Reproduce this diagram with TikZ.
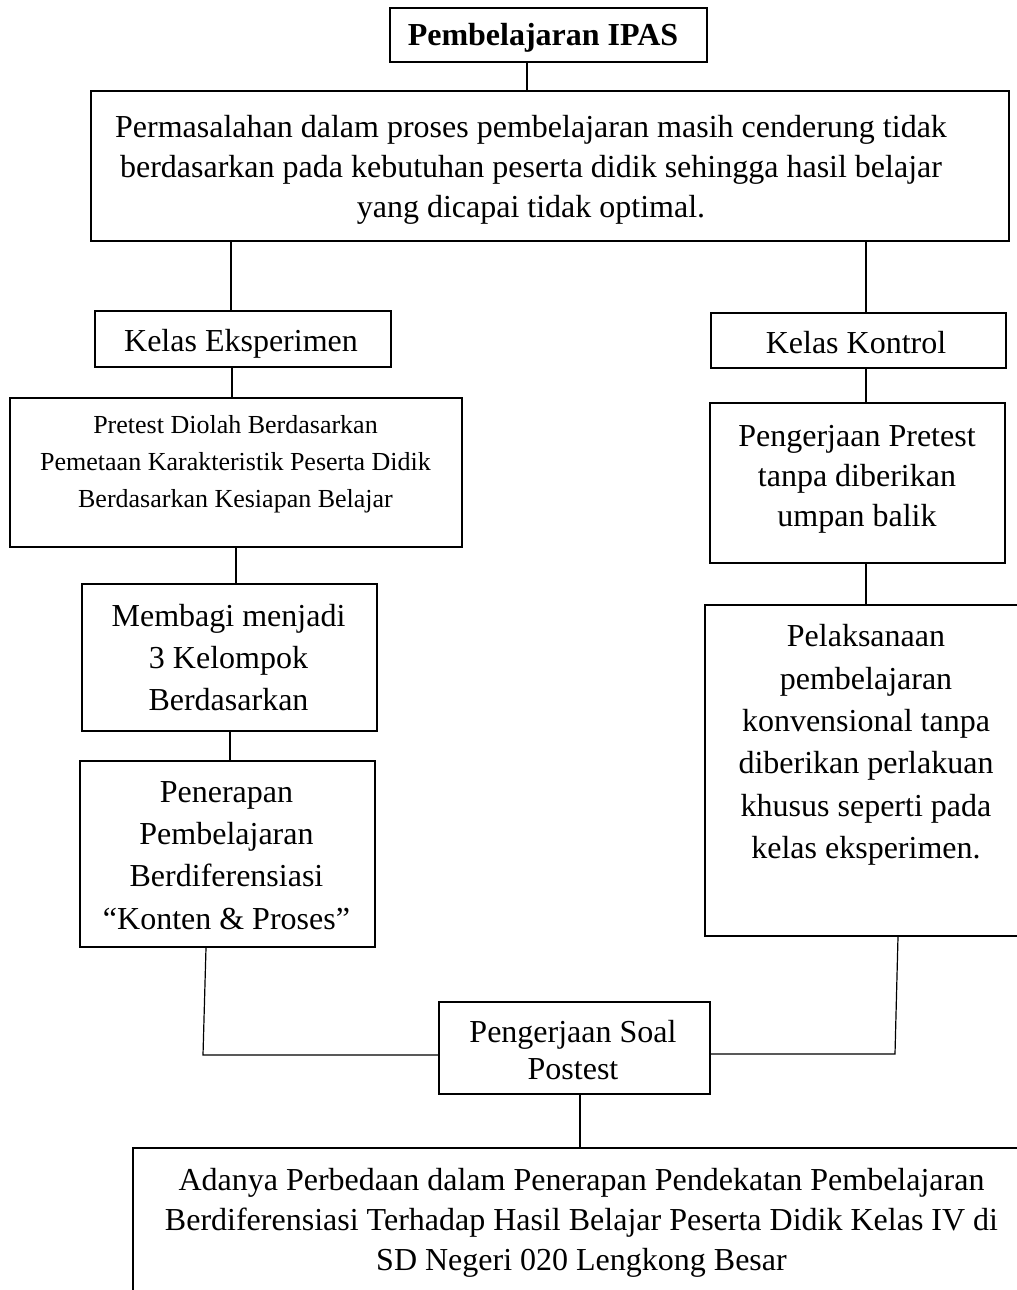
\documentclass[tikz,border=0pt]{standalone}
\usepackage{fontspec}
\setmainfont{Liberation Serif}
\tikzset{
  box/.style={draw, line width=1.3pt, rectangle, inner sep=0pt},
  txt/.style={align=center, inner sep=0pt, font=\fontsize{32}{40}\selectfont},
  txtw/.style={align=center, inner sep=0pt, font=\fontsize{32}{42.3}\selectfont},
  txts/.style={align=center, inner sep=0pt, font=\fontsize{26}{37}\selectfont},
  link/.style={line width=1.2pt},
}
\begin{document}
\begin{tikzpicture}[x=1pt,y=-1pt]
\useasboundingbox (0,0) rectangle (1017,1290);
\clip (0,0) rectangle (1017,1290);
% boxes
\node[box, minimum width=317pt, minimum height=54pt]  (title) at (548.5,35) {};
\node[box, minimum width=918pt, minimum height=150pt] (big)   at (550,166) {};
\node[box, minimum width=296pt, minimum height=56pt]  (ke)    at (243,339) {};
\node[box, minimum width=295pt, minimum height=55pt]  (kk)    at (858.5,340.5) {};
\node[box, minimum width=452pt, minimum height=149pt] (pre)   at (236,472.5) {};
\node[box, minimum width=295pt, minimum height=160pt] (pp)    at (857.5,483) {};
\node[box, minimum width=295pt, minimum height=147pt] (mem)   at (229.5,657.5) {};
\node[box, minimum width=295pt, minimum height=186pt] (pen)   at (227.5,854) {};
\node[box, minimum width=322pt, minimum height=331pt] (pel)   at (866,770.5) {};
\node[box, minimum width=271pt, minimum height=92pt]  (post)  at (574.5,1048) {};
\node[box, minimum width=897pt, minimum height=160pt] (fin)   at (581.5,1228) {};
% texts
\node[txt, font=\fontsize{32}{40}\selectfont\bfseries] (t0) at (543,38) {Pembelajaran IPAS};
\node[txt] (t1) at (531,170) {Permasalahan dalam proses pembelajaran masih cenderung tidak\\berdasarkan pada kebutuhan peserta didik sehingga hasil belajar\\yang dicapai tidak optimal.};
\node[txt] (t2) at (241,344) {Kelas Eksperimen};
\node[txt] (t3) at (856,343) {Kelas Kontrol};
\node[txts] (t4) at (235.5,464) {Pretest Diolah Berdasarkan\\Pemetaan Karakteristik Peserta Didik\\Berdasarkan Kesiapan Belajar};
\node[txt] (t5) at (857,479) {Pengerjaan Pretest\\tanpa diberikan\\umpan balik};
\node[txtw] (t6) at (228.5,657.5) {Membagi menjadi\\3 Kelompok\\Berdasarkan};
\node[txtw] (t7) at (226.5,855.5) {Penerapan\\Pembelajaran\\Berdiferensiasi\\“Konten \& Proses”};
\node[txtw] (t8) at (866,745) {Pelaksanaan\\pembelajaran\\konvensional tanpa\\diberikan perlakuan\\khusus seperti pada\\kelas eksperimen.};
\node[txt, font=\fontsize{32}{37}\selectfont] (t9) at (573,1050) {Pengerjaan Soal\\Postest};
\node[txt] (t10) at (581.5,1223) {Adanya Perbedaan dalam Penerapan Pendekatan Pembelajaran\\Berdiferensiasi Terhadap Hasil Belajar Peserta Didik Kelas IV di\\SD Negeri 020 Lengkong Besar};
% connectors
\coordinate (c1) at (527,0);
\coordinate (c2) at (231,0);
\coordinate (c3) at (866,0);
\coordinate (c4) at (232,0);
\coordinate (c5) at (236,0);
\coordinate (c6) at (230,0);
\coordinate (c7) at (206,0);
\coordinate (c8) at (898,0);
\coordinate (c9) at (580,0);
\coordinate (lb) at (203,1055);
\coordinate (rb) at (895,1054);
\draw[link] (c1 |- title.south) -- (c1 |- big.north);
\draw[link] (c2 |- big.south) -- (c2 |- ke.north);
\draw[link] (c3 |- big.south) -- (c3 |- kk.north);
\draw[link] (c4 |- ke.south) -- (c4 |- pre.north);
\draw[link] (c3 |- kk.south) -- (c3 |- pp.north);
\draw[link] (c5 |- pre.south) -- (c5 |- mem.north);
\draw[link] (c6 |- mem.south) -- (c6 |- pen.north);
\draw[link] (c3 |- pp.south) -- (c3 |- pel.north);
\draw[link] (c7 |- pen.south) -- (lb) -- (lb -| post.west);
\draw[link] (c8 |- pel.south) -- (rb) -- (rb -| post.east);
\draw[link] (c9 |- post.south) -- (c9 |- fin.north);
\end{tikzpicture}
\end{document}
